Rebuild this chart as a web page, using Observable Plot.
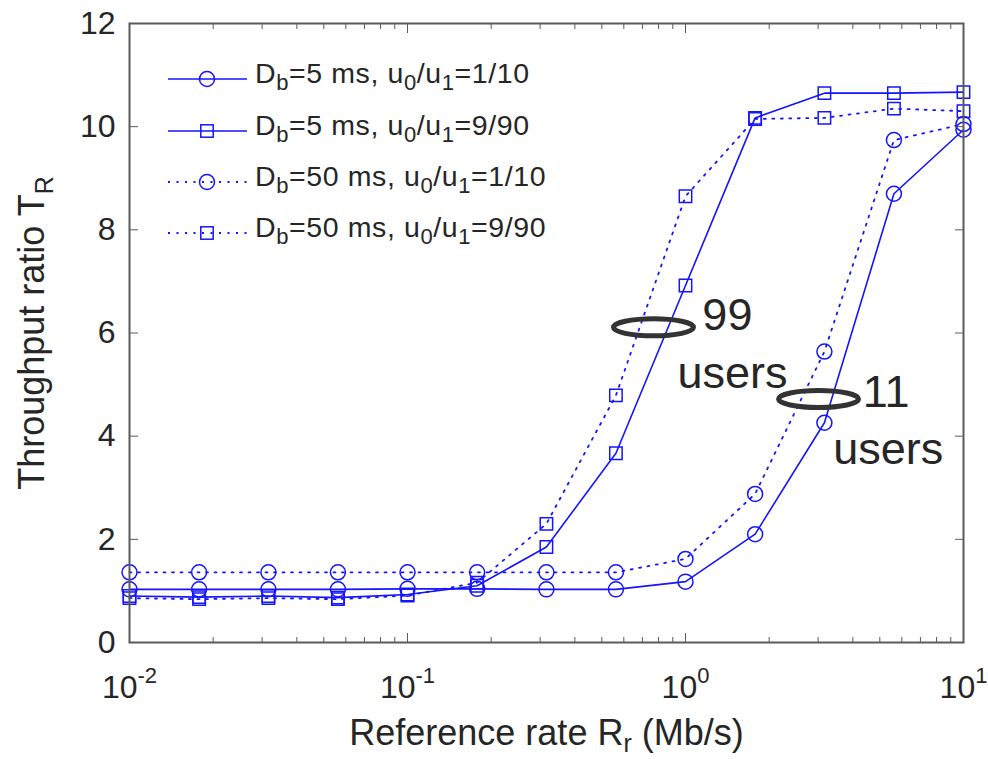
<!DOCTYPE html>
<html><head><meta charset="utf-8">
<script src="https://cdn.jsdelivr.net/npm/d3@7"></script>
<script src="https://cdn.jsdelivr.net/npm/@observablehq/plot@0.6"></script>
<style>body{margin:0;background:#fff} svg{display:block}</style>
</head><body><div id="chart"></div>
<script>
// ---- data ----
const rates = [0.01, 0.0178, 0.0316, 0.0562, 0.1, 0.178, 0.316, 0.562, 1, 1.78, 3.16, 5.62, 10];
const seriesNames = [
  "D_{b}=5 ms, u_{0}/u_{1}=1/10",
  "D_{b}=5 ms, u_{0}/u_{1}=9/90",
  "D_{b}=50 ms, u_{0}/u_{1}=1/10",
  "D_{b}=50 ms, u_{0}/u_{1}=9/90"
];
const seriesDash = ["solid", "solid", "dotted", "dotted"];
const seriesSymbol = ["circle", "square", "circle", "square"];
const db5_r1_10  = [1.03, 1.03, 1.03, 1.03, 1.04, 1.04, 1.03, 1.03, 1.18, 2.10, 4.26, 8.70, 9.94];
const db5_r9_90  = [0.90, 0.88, 0.90, 0.87, 0.93, 1.10, 1.85, 3.67, 6.92, 10.17, 10.65, 10.65, 10.67];
const db50_r1_10 = [1.36, 1.36, 1.36, 1.36, 1.36, 1.36, 1.36, 1.36, 1.62, 2.88, 5.64, 9.74, 10.05];
const db50_r9_90 = [0.86, 0.84, 0.86, 0.84, 0.91, 1.16, 2.30, 4.79, 8.65, 10.15, 10.17, 10.35, 10.30];
const seriesValues = [db5_r1_10, db5_r9_90, db50_r1_10, db50_r9_90];

const xTicks = [0.01, 0.1, 1, 10];
const xTickLabels = ["10^{-2}", "10^{-1}", "10^{0}", "10^{1}"];
const yTicks = [0, 2, 4, 6, 8, 10, 12];
const xLabel = "Reference rate R_{r} (Mb/s)";
const yLabel = "Throughput ratio T_{R}";

const ellipseX = [0.767, 3.01];
const ellipseY = [6.11, 4.72];
const annoText = ["99", "users", "11", "users"];
const annoX = [1.15, 0.935, 4.34, 3.40];
const annoY = [6.05, 4.94, 4.57, 3.47];

// ---- build ----
const rows = [];
seriesNames.forEach((s, i) => rates.forEach((r, j) =>
  rows.push({rate: r, value: seriesValues[i][j], series: s, dash: seriesDash[i], symbol: seriesSymbol[i]})));
const minorTicks = [];
for (const e of [-2, -1, 0]) for (let k = 2; k <= 9; k++) minorTicks.push(k * Math.pow(10, e));
const ellipses = ellipseX.map((x, i) => ({x, y: ellipseY[i]}));
const annos = annoText.map((t, i) => ({t, x: annoX[i], y: annoY[i]}));

const BLUE = "#1414ff";
const TXT = "#262626";
const AX = "#5a5a5a";
const DOTS = "2,6.5";
const ellipseSymbol = {draw(ctx) {
  const rx = 40, ry = 8.5, k = 0.5523;
  ctx.moveTo(rx, 0);
  ctx.bezierCurveTo(rx, ry * k, rx * k, ry, 0, ry);
  ctx.bezierCurveTo(-rx * k, ry, -rx, ry * k, -rx, 0);
  ctx.bezierCurveTo(-rx, -ry * k, -rx * k, -ry, 0, -ry);
  ctx.bezierCurveTo(rx * k, -ry, rx, -ry * k, rx, 0);
  ctx.closePath();
}};

const chart = Plot.plot({
  width: 988, height: 759,
  marginLeft: 129, marginRight: 25, marginTop: 23, marginBottom: 117,
  style: {fontFamily: "'Liberation Sans', Arial, sans-serif", fontSize: "32px", color: TXT, background: "white"},
  x: {type: "log", domain: [0.01, 10]},
  y: {domain: [0, 12]},
  marks: [
    Plot.line(rows.filter(d => d.dash === "solid"), {x: "rate", y: "value", z: "series", stroke: BLUE, strokeWidth: 1.6}),
    Plot.line(rows.filter(d => d.dash === "dotted"), {x: "rate", y: "value", z: "series", stroke: BLUE, strokeWidth: 1.8, strokeDasharray: DOTS}),
    Plot.dot(rows.filter(d => d.symbol === "circle"), {x: "rate", y: "value", symbol: "circle", r: 7.5, stroke: BLUE, strokeWidth: 1.5, fill: "none"}),
    Plot.dot(rows.filter(d => d.symbol === "square"), {x: "rate", y: "value", symbol: "square", r: 7, stroke: BLUE, strokeWidth: 1.5, fill: "none"}),
    Plot.axisX({anchor: "bottom", ticks: xTicks, tickSize: -9, tickPadding: 42, tickFormat: (d, i) => xTickLabels[xTicks.indexOf(d)], fontSize: 32, stroke: AX, fill: TXT, label: null}),
    Plot.axisX({anchor: "bottom", ticks: minorTicks, tickSize: -5, tickFormat: () => "", stroke: AX, label: null}),
    Plot.axisX({anchor: "top", ticks: xTicks, tickSize: -9, tickFormat: () => "", stroke: AX, label: null}),
    Plot.axisX({anchor: "top", ticks: minorTicks, tickSize: -5, tickFormat: () => "", stroke: AX, label: null}),
    Plot.axisY({anchor: "left", ticks: yTicks, tickSize: -9, tickPadding: 23, tickFormat: d => String(d), fontSize: 32, stroke: AX, fill: TXT, label: null}),
    Plot.axisY({anchor: "right", ticks: yTicks, tickSize: -9, tickFormat: () => "", stroke: AX, label: null}),
    Plot.frame({stroke: AX, strokeWidth: 2}),
    Plot.dot(ellipses, {x: "x", y: "y", symbol: ellipseSymbol, stroke: "#333", strokeWidth: 5, fill: "none"}),
    Plot.text(annos, {x: "x", y: "y", text: "t", textAnchor: "start", lineAnchor: "bottom", fontSize: 45, fill: TXT}),
    Plot.text([xLabel], {frameAnchor: "bottom", dy: 102, textAnchor: "middle", lineAnchor: "bottom", fontSize: 36, fill: TXT}),
    Plot.text([yLabel], {frameAnchor: "left", dx: -86, rotate: -90, textAnchor: "middle", lineAnchor: "bottom", fontSize: 36, fill: TXT})
  ]
});

// rich text: _{..} subscripts and ^{..} superscripts
function richText(el, str, fs, subScale = 0.7, subShift = 0.26) {
  const parts = [];
  const re = /([_^])\{([^}]*)\}/g;
  let last = 0, m;
  while ((m = re.exec(str))) {
    if (m.index > last) parts.push({t: str.slice(last, m.index), k: ""});
    parts.push({t: m[2], k: m[1]});
    last = re.lastIndex;
  }
  if (last < str.length) parts.push({t: str.slice(last), k: ""});
  while (el.firstChild) el.removeChild(el.firstChild);
  let off = 0;
  for (const p of parts) {
    const ts = document.createElementNS("http://www.w3.org/2000/svg", "tspan");
    const target = p.k === "_" ? fs * subShift : p.k === "^" ? -fs * 0.48 : 0;
    ts.setAttribute("dy", String(target - off));
    off = target;
    if (p.k) ts.setAttribute("font-size", String(Math.round(fs * subScale)));
    ts.textContent = p.t;
    el.appendChild(ts);
  }
}
chart.querySelectorAll("text").forEach(el => {
  const s = el.textContent;
  if (/[_^]\{/.test(s)) {
    const fs = parseFloat(el.getAttribute("font-size") || (el.parentNode && el.parentNode.getAttribute("font-size")) || getComputedStyle(el).fontSize) || 32;
    richText(el, s, fs, 0.7, s === xLabel ? 0.2 : 0.26);
  }
});

// legend (inside plot, top-left)
const NS = "http://www.w3.org/2000/svg";
const lg = document.createElementNS(NS, "g");
lg.setAttribute("text-anchor", "start");
const rowY = [79, 131, 182, 233];
const LFS = 28.5;
seriesNames.forEach((s, i) => {
  const y = rowY[i];
  const ln = document.createElementNS(NS, "line");
  ln.setAttribute("x1", 168); ln.setAttribute("x2", 247);
  ln.setAttribute("y1", y); ln.setAttribute("y2", y);
  ln.setAttribute("stroke", BLUE);
  ln.setAttribute("stroke-width", seriesDash[i] === "dotted" ? 1.8 : 1.6);
  if (seriesDash[i] === "dotted") ln.setAttribute("stroke-dasharray", DOTS);
  lg.appendChild(ln);
  let mk;
  if (seriesSymbol[i] === "circle") {
    mk = document.createElementNS(NS, "circle");
    mk.setAttribute("cx", 207); mk.setAttribute("cy", y); mk.setAttribute("r", 7.5);
  } else {
    mk = document.createElementNS(NS, "rect");
    mk.setAttribute("x", 207 - 6.2); mk.setAttribute("y", y - 6.2);
    mk.setAttribute("width", 12.4); mk.setAttribute("height", 12.4);
  }
  mk.setAttribute("fill", "none"); mk.setAttribute("stroke", BLUE); mk.setAttribute("stroke-width", 1.5);
  lg.appendChild(mk);
  const tx = document.createElementNS(NS, "text");
  tx.setAttribute("x", 255); tx.setAttribute("y", y + 4);
  tx.setAttribute("text-anchor", "start");
  tx.setAttribute("font-size", LFS); tx.setAttribute("fill", TXT);
  tx.setAttribute("letter-spacing", "0.6");
  richText(tx, s, LFS, 0.78);
  lg.appendChild(tx);
});
chart.appendChild(lg);

document.getElementById("chart").appendChild(chart);
</script>
</body></html>
